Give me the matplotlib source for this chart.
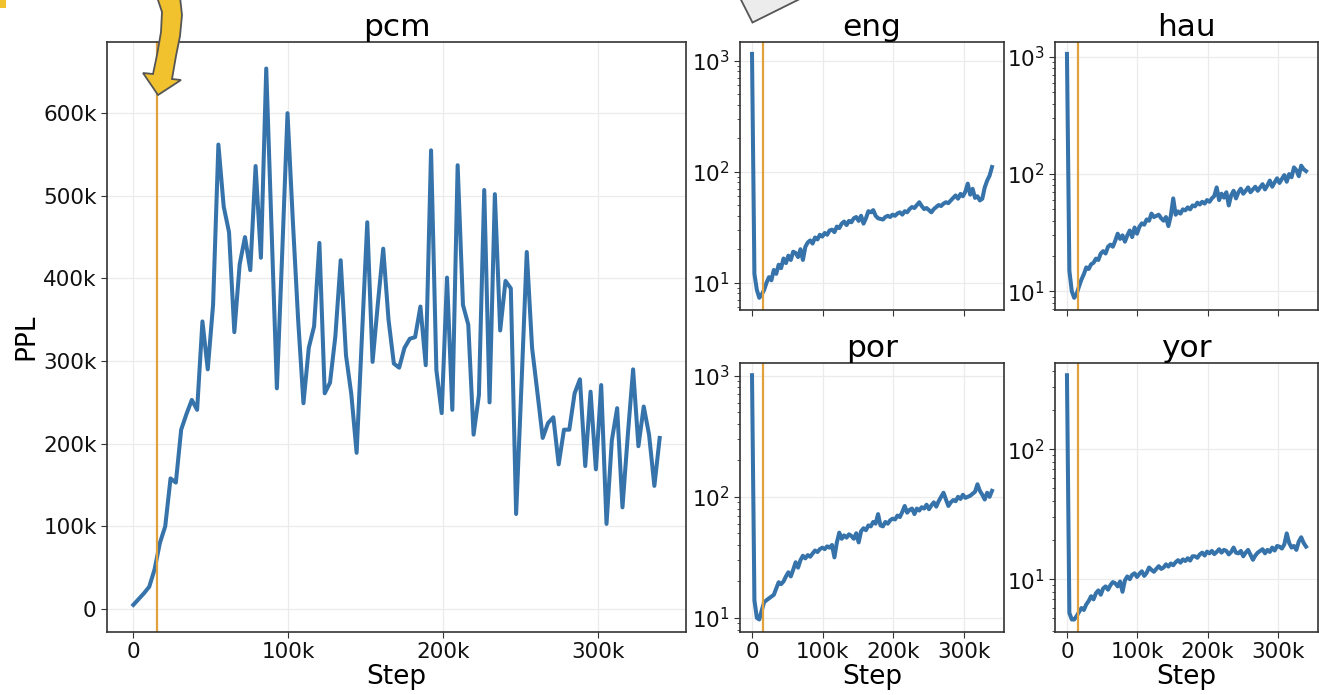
import numpy as np
import matplotlib.pyplot as plt
from matplotlib.patches import Polygon
from matplotlib.ticker import FuncFormatter

# evaluation steps (100 evals between 0 and 340k)
steps = np.linspace(0, 340000, 100)
warmup_end = 15000

# pcm perplexity, in thousands
pcm = [5, 12, 19, 27, 48, 80, 100, 158, 153, 217,
       236, 253, 241, 348, 290, 368, 562, 487, 456, 335,
       417, 450, 410, 536, 425, 654, 460, 267, 430, 600,
       470, 350, 249, 316, 342, 443, 261, 274, 330, 422,
       307, 260, 189, 330, 468, 299, 370, 436, 350, 297,
       292, 316, 327, 329, 366, 295, 555, 289, 237, 401,
       241, 537, 368, 344, 211, 259, 507, 250, 502, 337,
       397, 388, 115, 270, 432, 316, 262, 207, 225, 232,
       175, 217, 217, 261, 278, 173, 263, 169, 271, 103,
       204, 243, 123, 210, 290, 197, 245, 211, 149, 207]

eng = [1150, 12, 8.6, 7.3, 7.8, 8.6, 10.0, 11.2, 10.5, 13.0,
       12.0, 14.5, 13.5, 16.5, 15.0, 17.5, 16.0, 19.0, 18.5, 17.0,
       20.0, 16.0, 21.0, 23.0, 24.0, 22.5, 25.5, 24.5, 27.0, 26.0,
       28.0, 27.0, 29.5, 30.0, 28.5, 32.0, 31.0, 34.0, 35.5, 33.0,
       36.0, 35.0, 38.0, 39.0, 36.0, 40.0, 34.0, 38.0, 44.0, 43.0,
       45.0, 40.0, 38.0, 37.5, 37.0, 39.0, 40.0, 39.0, 41.0, 40.0,
       42.0, 43.0, 41.0, 44.0, 43.0, 46.0, 48.0, 47.0, 50.0, 53.0,
       49.0, 46.0, 47.0, 45.0, 43.0, 46.0, 48.0, 50.0, 49.0, 51.5,
       53.0, 52.0, 55.0, 58.0, 61.0, 57.0, 63.0, 60.0, 66.0, 78.0,
       62.0, 70.0, 58.0, 60.0, 55.0, 57.0, 72.0, 83.0, 92.0, 110.0]

hau = [1060, 15, 10.0, 8.8, 9.5, 11.0, 12.6, 14.0, 16.0, 15.5,
       17.0, 17.5, 19.0, 18.5, 21.0, 22.0, 21.0, 24.0, 25.0, 24.0,
       27.0, 31.0, 28.0, 30.0, 26.5, 30.0, 33.0, 29.0, 35.0, 31.0,
       35.5, 38.0, 37.0, 41.0, 40.0, 46.0, 43.0, 44.0, 45.0, 42.0,
       40.0, 43.0, 36.0, 44.0, 62.0, 45.0, 48.0, 46.0, 50.0, 49.0,
       52.0, 50.0, 54.0, 53.0, 57.0, 55.0, 58.0, 56.0, 60.0, 58.0,
       62.0, 65.0, 77.0, 60.0, 68.0, 63.0, 70.0, 54.0, 66.0, 72.0,
       62.0, 70.0, 75.0, 68.0, 72.0, 77.0, 70.0, 74.0, 78.0, 72.0,
       77.0, 82.0, 74.0, 80.0, 88.0, 78.0, 85.0, 92.0, 84.0, 91.0,
       98.0, 86.0, 100.0, 94.0, 114.0, 108.0, 96.0, 118.0, 110.0, 106.0]

por = [1010, 14, 10.0, 9.7, 11.5, 13.5, 14.0, 14.5, 15.0, 15.5,
       17.5, 19.7, 19.0, 20.0, 22.0, 23.8, 22.0, 25.0, 28.8, 26.0,
       30.0, 32.6, 31.0, 33.0, 32.0, 34.0, 36.0, 35.0, 37.0, 38.0,
       37.0, 39.0, 38.0, 40.0, 31.6, 42.0, 50.6, 45.0, 48.0, 46.0,
       49.0, 47.5, 45.0, 50.0, 42.0, 52.0, 55.0, 53.0, 58.0, 57.0,
       62.0, 60.0, 72.0, 58.0, 57.0, 62.0, 60.0, 64.0, 66.0, 65.0,
       70.0, 68.0, 75.0, 84.0, 74.0, 78.0, 80.0, 72.0, 80.0, 77.0,
       82.0, 80.0, 86.0, 79.0, 85.0, 90.0, 83.0, 92.0, 100.0, 108.0,
       95.0, 84.0, 90.0, 94.0, 92.0, 100.0, 96.0, 104.0, 98.0, 100.0,
       102.0, 106.0, 110.0, 127.0, 112.0, 104.0, 95.0, 108.0, 100.0, 112.0]

yor = [370, 5.5, 4.9, 4.9, 5.2, 5.6, 6.0, 5.8, 6.4, 6.8,
       7.4, 7.0, 7.8, 8.2, 7.6, 8.5, 8.8, 8.3, 9.0, 9.5,
       9.3, 8.8, 9.6, 8.0, 9.8, 10.5, 10.0, 10.8, 11.1, 10.4,
       11.0, 11.5, 10.6, 11.2, 12.3, 11.8, 11.4, 12.0, 12.6, 12.0,
       12.3, 13.0, 12.5, 13.2, 12.8, 13.5, 14.0, 13.4, 14.2, 13.8,
       14.5, 13.9, 15.0, 15.0, 14.6, 15.5, 16.0, 15.2, 16.3, 15.8,
       16.5, 15.6, 16.2, 17.0, 16.0, 16.8, 16.5, 15.5, 16.2, 17.5,
       16.0, 15.8, 16.5, 15.0, 16.0, 16.8, 15.4, 14.1, 15.2, 16.0,
       16.5, 17.0, 15.8, 16.8, 16.2, 17.5, 16.6, 18.0, 17.8, 17.2,
       18.5, 22.5, 19.0, 17.5, 18.0, 16.8, 19.5, 21.0, 19.0, 17.8]

BLUE = '#3673aa'
ORANGE = '#e1a13c'
W, H = 1319, 695


def kfmt(v, pos):
    if v == 0:
        return '0'
    return '%dk' % int(round(v / 1000))


def px(x, y):
    # pixel position -> figure fraction
    return (x / W, 1 - y / H)


def style(ax):
    ax.grid(True, color='#ebebeb', linewidth=0.9)
    ax.set_axisbelow(True)
    for s in ax.spines.values():
        s.set_color('#333333')
        s.set_linewidth(1.2)
    ax.tick_params(labelsize=15.5, length=4)
    ax.tick_params(colors='#333333', which='both')
    ax.tick_params(labelcolor='#111111')
    ax.xaxis.set_major_formatter(FuncFormatter(kfmt))
    ax.set_xticks([0, 100000, 200000, 300000])


fig = plt.figure(figsize=(W / 100, H / 100), dpi=100)

# big pcm panel
ax = fig.add_axes([107 / W, 1 - 631.7 / H, (686 - 107) / W, (631.7 - 41.7) / H])
style(ax)
ax.plot(steps, np.array(pcm) * 1000, color=BLUE, lw=2.9)
ax.axvline(warmup_end, color=ORANGE, lw=1.6)
ax.yaxis.set_major_formatter(FuncFormatter(kfmt))
ax.set_yticks(np.arange(0, 700000, 100000))
ax.set_title('pcm', fontsize=22.5, pad=3)
ax.set_xlabel('Step', fontsize=19, labelpad=1)
ax.set_ylabel('PPL', fontsize=19, labelpad=3)

# small log panels
small = [('eng', eng, 740, 41.7, 1004, 310, False),
         ('hau', hau, 1055, 41.7, 1318, 310, False),
         ('por', por, 740, 363, 1004, 631.7, True),
         ('yor', yor, 1055, 363, 1318, 631.7, True)]
for name, vals, x0, y0, x1, y1, bottom in small:
    a = fig.add_axes([x0 / W, 1 - y1 / H, (x1 - x0) / W, (y1 - y0) / H])
    a.set_yscale('log')
    style(a)
    a.grid(False, which='minor')
    a.plot(steps, vals, color=BLUE, lw=2.9)
    a.axvline(warmup_end, color=ORANGE, lw=1.6)
    a.set_title(name, fontsize=22.5, pad=3)
    a.tick_params(which='minor', length=2.5)
    if bottom:
        a.set_xlabel('Step', fontsize=19, labelpad=1)
    else:
        a.tick_params(axis='x', labelbottom=False)

# annotation leftovers from the paper figure
arrow = [(157, -3), (162, 12), (161, 32), (157, 55), (153, 74), (143, 73),
         (158, 95), (181, 80), (172, 79), (176, 56), (180, 36), (182, 15), (180, -3)]
fig.add_artist(Polygon([px(*p) for p in arrow], closed=True, transform=fig.transFigure,
                       facecolor='#f2c12e', edgecolor='#555555', lw=1.3, clip_on=False))
fig.add_artist(Polygon([px(*p) for p in [(-2, -2), (6, -2), (6, 8), (-2, 8)]], closed=True,
                       transform=fig.transFigure, facecolor='#f2c12e', edgecolor='none'))
box = [(735, -12), (752.5, 22.5), (830, -16)]
fig.add_artist(Polygon([px(*p) for p in box], closed=True, transform=fig.transFigure,
                       facecolor='#ececec', edgecolor='#555555', lw=1.3))

fig.savefig('out.png', dpi=100)
